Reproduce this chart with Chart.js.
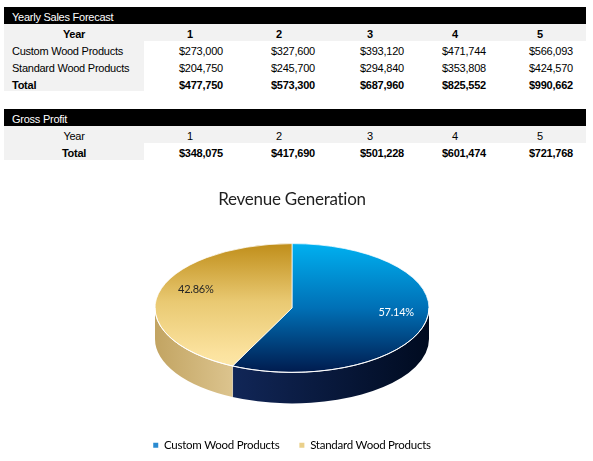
<!DOCTYPE html>
<html>
<head>
<meta charset="utf-8">
<script src="https://cdn.jsdelivr.net/npm/chart.js@4.4.0/dist/chart.umd.min.js"></script>
<style>
  html, body { margin: 0; padding: 0; background: #fff; }
  body { width: 593px; height: 461px; position: relative; overflow: hidden;
         font-family: "Liberation Sans", Arial, sans-serif; font-size: 11px; letter-spacing: -0.25px; color: #000; }
  .bar { position: absolute; left: 4px; width: 582px; height: 17px; background: #000; }
  .band { position: absolute; left: 4px; height: 17px; background: #f2f2f2; }
  .t { position: absolute; white-space: nowrap; line-height: 13px; color: #000; }
  .w { color: #fff; }
  .b { font-weight: bold; }
  #chartBox { position: absolute; left: 0; top: 180px; width: 593px; height: 281px; }
</style>
</head>
<body>
<div id="tables"></div>
<div id="chartBox"><canvas id="myChart"></canvas></div>
<script>
// ---- data
const years = ['1', '2', '3', '4', '5'];
const customWood = [273000, 327600, 393120, 471744, 566093];
const standardWood = [204750, 245700, 294840, 353808, 424570];
const salesTotal = [477750, 573300, 687960, 825552, 990662];
const grossProfit = [348075, 417690, 501228, 601474, 721768];

const pieLabels = ['Custom Wood Products', 'Standard Wood Products'];
const pieValues = [273000, 204750];
const legendColors = ['#2a8ad0', '#ead08a'];

// ---- tables (plain html)
const valueX = [179, 271, 360, 442, 529];
const headX = [187, 276, 367, 452, 537];
const box = document.getElementById('tables');

function money(v) { return '$' + v.toLocaleString('en-US'); }

function addDiv(cls, css, text) {
    const d = document.createElement('div');
    d.className = cls;
    d.style.cssText = css;
    if (text !== undefined) d.textContent = text;
    box.appendChild(d);
    return d;
}

function textAt(x, rowTop, text, bold, center, extra) {
    const css = 'top:' + (rowTop + 4) + 'px;' + (center ? 'left:4px;width:140px;text-align:center;' : 'left:' + x + 'px;');
    addDiv('t' + (bold ? ' b' : '') + (extra ? ' ' + extra : ''), css, text);
}

// yearly sales forecast
addDiv('bar', 'top:7px;');
textAt(12, 7, 'Yearly Sales Forecast', false, false, 'w');
addDiv('band', 'top:24px;width:582px;');
addDiv('band', 'top:41px;width:140px;height:50px;');
textAt(0, 24, 'Year', true, true);
years.forEach((y, i) => textAt(headX[i], 24, y, true));
const rows = [['Custom Wood Products', customWood, false], ['Standard Wood Products', standardWood, false], ['Total', salesTotal, true]];
rows.forEach((r, j) => {
    const top = 41 + j * 17;
    textAt(12, top, r[0], r[2]);
    r[1].forEach((v, i) => textAt(valueX[i], top, money(v), r[2]));
});

// gross profit
addDiv('bar', 'top:109px;');
textAt(12, 109, 'Gross Profit', false, false, 'w');
addDiv('band', 'top:126px;width:582px;');
addDiv('band', 'top:143px;width:140px;');
textAt(0, 126, 'Year', false, true);
years.forEach((y, i) => textAt(headX[i], 126, y, false));
textAt(0, 143, 'Total', true, true);
grossProfit.forEach((v, i) => textAt(valueX[i], 143, money(v), true));

// ---- 3d pie look
const R = 137;
const TILT = 0.47;
const CENTER_Y = 128;   // canvas y of the top face centre
const DEPTH = 31;

const topStops = [
    [[0, '#00b0f0'], [0.5, '#0070b6'], [1, '#001b4e']],
    [[0, '#c08e1a'], [0.45, '#e9c972'], [0.85, '#fbe29e'], [1, '#fde8aa']]
];
const sideColors = [['#112657', '#000b20'], ['#c2a462', '#dcc48e']];

function topFill(context) {
    const chart = context.chart;
    const area = chart.chartArea;
    const stops = topStops[context.dataIndex] || topStops[0];
    if (!area) return stops[1][1];
    const cy = (area.top + area.bottom) / 2;
    const g = chart.ctx.createLinearGradient(0, cy - R, 0, cy + R);
    stops.forEach(s => g.addColorStop(s[0], s[1]));
    return g;
}

const pie3d = {
    id: 'pie3d',
    beforeDatasetsDraw(chart) {
        const ctx = chart.ctx;
        const arcs = chart.getDatasetMeta(0).data;
        const cx = arcs[0].x, cy = arcs[0].y;
        const ry = R * TILT;
        arcs.forEach((arc, i) => {
            let a1 = Math.max(arc.startAngle, 0);
            let a2 = Math.min(arc.endAngle, Math.PI);
            if (a2 <= a1) return;
            const x1 = cx + R * Math.cos(a1), x2 = cx + R * Math.cos(a2);
            const g = ctx.createLinearGradient(Math.min(x1, x2), 0, Math.max(x1, x2), 0);
            g.addColorStop(0, sideColors[i][0]);
            g.addColorStop(1, sideColors[i][1]);
            ctx.beginPath();
            ctx.ellipse(cx, CENTER_Y, R, ry, 0, a1, a2);
            ctx.ellipse(cx, CENTER_Y + DEPTH, R, ry, 0, a2, a1, true);
            ctx.closePath();
            ctx.fillStyle = g;
            ctx.fill();
            // seam on the side wall
            if (arc.endAngle < Math.PI && arc.endAngle > 0) {
                ctx.beginPath();
                ctx.moveTo(x2, CENTER_Y + ry * Math.sin(a2));
                ctx.lineTo(x2, CENTER_Y + ry * Math.sin(a2) + DEPTH);
                ctx.strokeStyle = 'rgba(255,255,255,0.6)';
                ctx.lineWidth = 1;
                ctx.stroke();
            }
        });
        ctx.save();
        ctx.translate(0, CENTER_Y);
        ctx.scale(1, TILT);
        ctx.translate(0, -cy);
    },
    afterDatasetsDraw(chart) {
        const ctx = chart.ctx;
        ctx.restore();
        const meta = chart.getDatasetMeta(0);
        const arcs = meta.data;
        const cx = arcs[0].x;
        const ry = R * TILT;
        // front rim
        ctx.beginPath();
        ctx.ellipse(cx, CENTER_Y, R, ry, 0, 0, Math.PI);
        ctx.strokeStyle = '#ffffff';
        ctx.lineWidth = 1;
        ctx.stroke();
        // value labels, nudged a little toward the back like the perspective view
        const values = chart.data.datasets[0].data;
        const total = values.reduce((a, b) => a + b, 0);
        ctx.font = '11px Lato';
        ctx.textAlign = 'center';
        ctx.textBaseline = 'middle';
        arcs.forEach((arc, i) => {
            const mid = (arc.startAngle + arc.endAngle) / 2;
            const x = cx + 0.78 * R * Math.cos(mid) + (Math.cos(mid) < 0 ? 8 : 0);
            const y = CENTER_Y + 0.78 * ry * Math.sin(mid) - 7;
            ctx.fillStyle = i === 0 ? '#ffffff' : '#262626';
            ctx.fillText((values[i] / total * 100).toFixed(2) + '%', x, y);
        });
    }
};

const ctx = document.getElementById('myChart');
new Chart(ctx, {
    type: 'pie',
    data: {
        labels: pieLabels,
        datasets: [{
            data: pieValues,
            radius: R,
            backgroundColor: topFill,
            borderColor: '#ffffff',
            borderWidth: 1
        }]
    },
    options: {
        responsive: true,
        maintainAspectRatio: false,
        animation: false,
        layout: { padding: { left: 0, right: 9 } },
        plugins: {
            title: {
                display: true, text: 'Revenue Generation', color: '#1f1f1f',
                padding: { top: 9, bottom: 0 }, font: { size: 17, family: 'Lato', weight: 'normal' }
            },
            legend: {
                display: true,
                position: 'bottom',
                labels: {
                    boxWidth: 5, boxHeight: 5, padding: 20, color: '#595959',
                    font: { size: 11.5, family: 'Lato' },
                    generateLabels: function (chart) {
                        return pieLabels.map((l, i) => ({
                            text: l, fillStyle: legendColors[i], strokeStyle: legendColors[i],
                            lineWidth: 0, index: i, hidden: false
                        }));
                    }
                }
            },
            tooltip: { enabled: false }
        }
    },
    plugins: [pie3d]
});
</script>
</body>
</html>
